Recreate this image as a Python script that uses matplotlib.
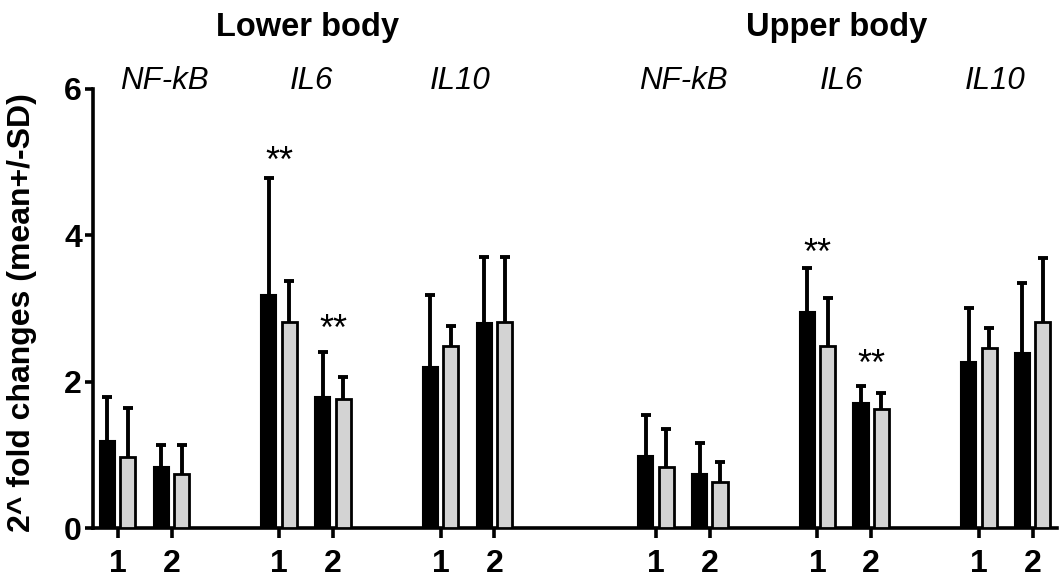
import numpy as np
import matplotlib
matplotlib.use("Agg")
import matplotlib.pyplot as plt

plt.rcParams['font.family'] = ['Liberation Sans', 'DejaVu Sans']

regions = ['Lower body', 'Upper body']
genes = ['NF-kB', 'IL6', 'IL10', 'NF-kB', 'IL6', 'IL10']
pair_labels = ['1', '2']

# mean and SD for the black and grey bars, 2 per gene, in plot order
black_mean = [1.19, 0.83, 3.18, 1.79, 2.20, 2.80, 0.98, 0.74, 2.95, 1.71, 2.27, 2.39]
black_sd = [0.60, 0.30, 1.60, 0.61, 0.98, 0.90, 0.56, 0.42, 0.60, 0.23, 0.74, 0.96]
grey_mean = [0.97, 0.74, 2.81, 1.76, 2.49, 2.81, 0.83, 0.63, 2.49, 1.63, 2.46, 2.81]
grey_sd = [0.67, 0.39, 0.56, 0.30, 0.27, 0.89, 0.53, 0.27, 0.66, 0.22, 0.28, 0.88]

# significance marks: (bar index, height)
stars_idx = [2, 3, 8, 9]
stars_y = [4.86, 2.57, 3.61, 2.09]

# x positions: 3 genes per region, 2 pairs per gene, extra gap between regions
pos = []
for g in range(len(genes)):
    for p in range(len(pair_labels)):
        pos.append(g * 3 + p + (1 if g >= 3 else 0))
pos = np.array(pos, dtype=float)

gene_x = [0.87, 3.6, 6.37, 10.5, 13.45, 16.3]
region_x = [3.53, 13.35]

fig = plt.figure(figsize=(10.6, 5.73), dpi=100)
ax = fig.add_axes([0.0877, 0.0785, 0.9094, 0.7662])

w = 0.28
off = 0.19
lw_err = 2.8

ax.bar(pos - off, black_mean, w, color='black', edgecolor='black', linewidth=1.5, zorder=3)
ax.bar(pos + off, grey_mean, w, color='#d3d3d3', edgecolor='black', linewidth=2, zorder=3)

for xs, m, s in [(pos - off, black_mean, black_sd), (pos + off, grey_mean, grey_sd)]:
    m = np.array(m)
    s = np.array(s)
    ax.vlines(xs, m, m + s, color='black', linewidth=lw_err, zorder=2)
    ax.plot(xs, m + s, ls='none', marker='_', ms=6.5, mew=lw_err, color='black', zorder=2)

for i, y in zip(stars_idx, stars_y):
    ax.text(pos[i], y, '**', ha='center', va='baseline', fontsize=26)

for x, g in zip(gene_x, genes):
    ax.text(x, 6.0, g, ha='center', va='baseline', fontsize=22.5, style='italic')

for x, r in zip(region_x, regions):
    ax.text(x, 6.73, r, ha='center', va='baseline', fontsize=23.5, fontweight='bold', clip_on=False)

ax.set_xlim(-0.46, 17.45)
ax.set_ylim(0, 6)
ax.set_yticks([0, 2, 4, 6])
ax.set_xticks(pos)
ax.set_xticklabels(pair_labels * len(genes))

for side in ['top', 'right']:
    ax.spines[side].set_visible(False)
for side in ['left', 'bottom']:
    ax.spines[side].set_linewidth(2.6)

ax.tick_params(axis='x', length=7, width=2.6, pad=8, labelsize=23)
ax.tick_params(axis='y', length=6, width=2.6, pad=2, labelsize=23)
for lab in ax.get_xticklabels() + ax.get_yticklabels():
    lab.set_fontweight('bold')

ax.set_ylabel('2^ fold changes (mean+/-SD)', fontsize=23, fontweight='bold')
ax.yaxis.set_label_coords(-0.058, 0.49)

plt.savefig('out.png', dpi=100)
